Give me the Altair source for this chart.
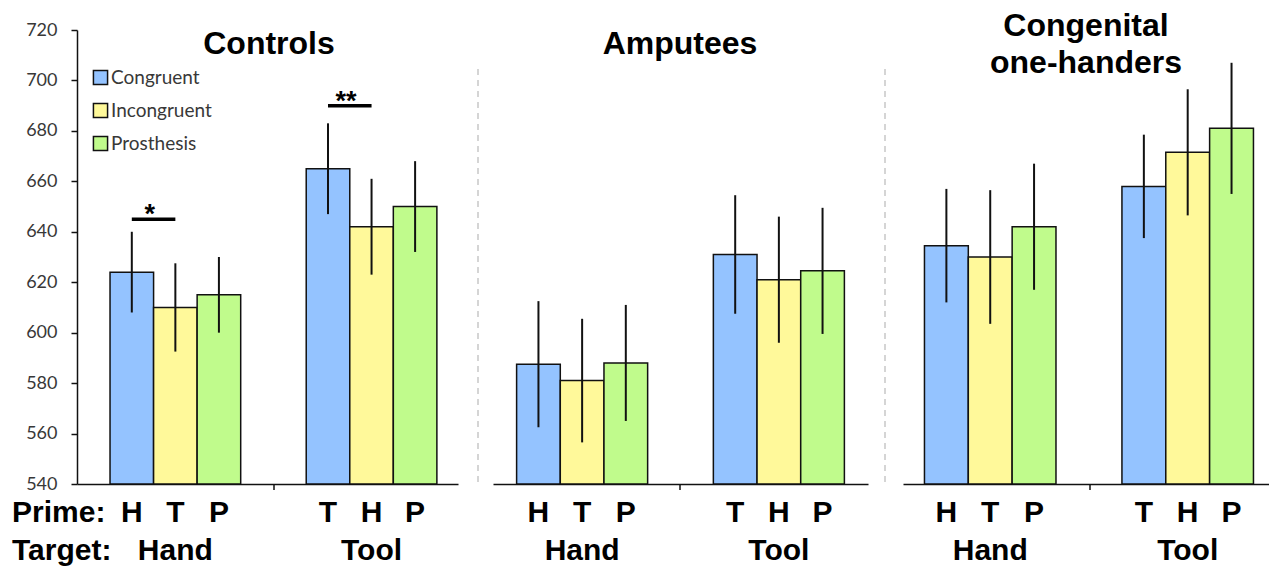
import altair as alt
import pandas as pd

# ---------------- data ----------------
groups = ["Controls", "Amputees", "Congenital\none-handers"]
targets = ["Hand", "Tool"]
conditions = ["Congruent", "Incongruent", "Prosthesis"]
prime_hand = ["H", "T", "P"]
prime_tool = ["T", "H", "P"]
colors = ["#94C3FF", "#FFF99A", "#C0FB8C"]

controls_hand = [624, 610, 615]
controls_tool = [665, 642, 650]
amputees_hand = [587.5, 581, 588]
amputees_tool = [631, 621, 624.5]
congenital_hand = [634.5, 630, 642]
congenital_tool = [658, 671.5, 681]

controls_hand_err = [16, 17.5, 15]
controls_tool_err = [18, 19, 18]
amputees_hand_err = [25, 24.5, 23]
amputees_tool_err = [23.5, 25, 25]
congenital_hand_err = [22.5, 26.5, 25]
congenital_tool_err = [20.5, 25, 26]

y_ticks = [540, 560, 580, 600, 620, 640, 660, 680, 700, 720]

sig_labels = ["*", "**"]
sig_targets = ["Hand", "Tool"]
sig_levels = [645, 690]

# ---------------- style / layout ----------------
BOLD = "Liberation Sans"
LIGHT = "Lato"
H = 454
P_IN = 0.334
ROW1 = H + 38
ROW2 = H + 76


def make_df(hand, tool, hand_err, tool_err):
    rows = []
    for t, vals, errs, primes in (("Hand", hand, hand_err, prime_hand),
                                  ("Tool", tool, tool_err, prime_tool)):
        for c, v, e, p in zip(conditions, vals, errs, primes):
            rows.append({"target": t, "condition": c, "mean": v,
                         "lo": v - e, "hi": v + e, "prime": p})
    return pd.DataFrame(rows)


def panel(idx, hand, tool, hand_err, tool_err, width, pad_outer, align,
          title_x, title_y, mid_tick, first=False, dashes=False):
    df = make_df(hand, tool, hand_err, tool_err)
    xs = alt.X("target:N",
               scale=alt.Scale(domain=targets, paddingInner=P_IN,
                               paddingOuter=pad_outer, align=align),
               axis=alt.Axis(title=None, labels=False, ticks=False,
                             domain=True, domainColor="#111",
                             domainWidth=1.5, grid=False))
    xo = alt.XOffset("condition:N",
                     scale=alt.Scale(domain=conditions, paddingInner=0,
                                     paddingOuter=0))
    yscale = alt.Scale(domain=[540, 720], zero=False, nice=False)
    if first:
        yaxis = alt.Axis(values=y_ticks, title=None, grid=False,
                         domain=True, domainColor="#111", domainWidth=1.5,
                         ticks=True, tickColor="#111", tickWidth=1.5,
                         tickSize=6, labelFont=LIGHT, labelFontSize=18,
                         labelColor="#383838", labelPadding=14)
        legend = alt.Legend(orient="none", legendX=14, legendY=38,
                            title=None, symbolType="square", symbolSize=200,
                            symbolStrokeColor="#111", symbolStrokeWidth=1.5,
                            symbolOpacity=1, labelFont=LIGHT,
                            labelFontSize=19, labelColor="#383838",
                            rowPadding=12, labelOffset=1, padding=0)
    else:
        yaxis = None
        legend = None

    base = alt.Chart(df)
    bars = base.mark_bar(stroke="#111", strokeWidth=1.5).encode(
        x=xs, xOffset=xo,
        y=alt.Y("mean:Q", scale=yscale, axis=yaxis),
        y2=alt.datum(540),
        color=alt.Color("condition:N",
                        scale=alt.Scale(domain=conditions, range=colors),
                        legend=legend),
    )
    errs = base.mark_rule(color="#111", strokeWidth=2).encode(
        x=xs, xOffset=xo,
        y=alt.Y("lo:Q", scale=yscale, axis=yaxis),
        y2="hi:Q",
    )
    prime_txt = base.mark_text(font=BOLD, fontSize=30, fontWeight="bold",
                               baseline="alphabetic", color="#000").encode(
        x=xs, xOffset=xo, y=alt.value(ROW1), text="prime:N")
    tgt_txt = alt.Chart(pd.DataFrame({"target": targets})).mark_text(
        font=BOLD, fontSize=30, fontWeight="bold", baseline="alphabetic",
        color="#000").encode(x=xs, y=alt.value(ROW2), text="target:N")
    title = alt.Chart(pd.DataFrame({"g": [groups[idx]]})).mark_text(
        font=BOLD, fontSize=32, fontWeight="bold", baseline="alphabetic",
        lineBreak="\n", lineHeight=37, color="#000").encode(
        x=alt.value(title_x), y=alt.value(title_y), text="g:N")
    tick = alt.Chart(pd.DataFrame({"k": [0]})).mark_rule(
        color="#111", strokeWidth=1.5).encode(
        x=alt.value(mid_tick), y=alt.value(H), y2=alt.value(H + 6))

    layers = [bars, errs, prime_txt, tgt_txt, title, tick]

    if first:
        sig = pd.DataFrame({"label": sig_labels, "target": sig_targets,
                            "level": sig_levels})
        sig_pts = pd.concat([sig.assign(condition="Congruent"),
                             sig.assign(condition="Incongruent")])
        sig_line = alt.Chart(sig_pts).mark_line(
            color="#000", strokeWidth=3.5).encode(
            x=xs, xOffset=xo,
            y=alt.Y("level:Q", scale=yscale, axis=yaxis),
            detail="label:N")
        sig_txt = alt.Chart(sig.assign(condition="Congruent")).mark_text(
            font=BOLD, fontSize=27, fontWeight="bold", baseline="alphabetic",
            dx=18, dy=4, color="#000").encode(
            x=xs, xOffset=xo,
            y=alt.Y("level:Q", scale=yscale, axis=yaxis),
            text="label:N")
        lab = pd.DataFrame({"lab": ["Prime:", "Target:"],
                            "row": [ROW1, ROW2]})
        row_txt = alt.Chart(lab).mark_text(
            font=BOLD, fontSize=30, fontWeight="bold", align="left",
            baseline="alphabetic", color="#000").encode(
            x=alt.value(-65), y=alt.Y("row:Q", scale=None), text="lab:N")
        layers += [sig_line, sig_txt, row_txt]

    if dashes:
        dd = pd.DataFrame({"xp": [-15, width + 17]})
        dash = alt.Chart(dd).mark_rule(
            color="#c8c8c8", strokeWidth=1.5, strokeDash=[6, 5]).encode(
            x=alt.X("xp:Q", scale=None), y=alt.value(39), y2=alt.value(452))
        layers.append(dash)

    return alt.layer(*layers).properties(width=width, height=H)


p1 = panel(0, controls_hand, controls_tool, controls_hand_err,
           controls_tool_err, 381, 0.138, 0.61, 192, 24, 197, first=True)
p2 = panel(1, amputees_hand, amputees_tool, amputees_hand_err,
           amputees_tool_err, 375, 0.12, 0.5, 187, 24, 187, dashes=True)
p3 = panel(2, congenital_hand, congenital_tool, congenital_hand_err,
           congenital_tool_err, 366, 0.0937, 0.58, 183, 6, 187)

chart = alt.hconcat(p1, p2, p3, spacing=35, bounds="flush").resolve_scale(
    x="independent", y="independent", color="independent",
    xOffset="independent"
).properties(
    padding={"left": 4, "top": 2, "right": 0, "bottom": 0}
).configure_view(stroke=None)

chart.save("out.html", embed_options={"renderer": "svg", "actions": False})
